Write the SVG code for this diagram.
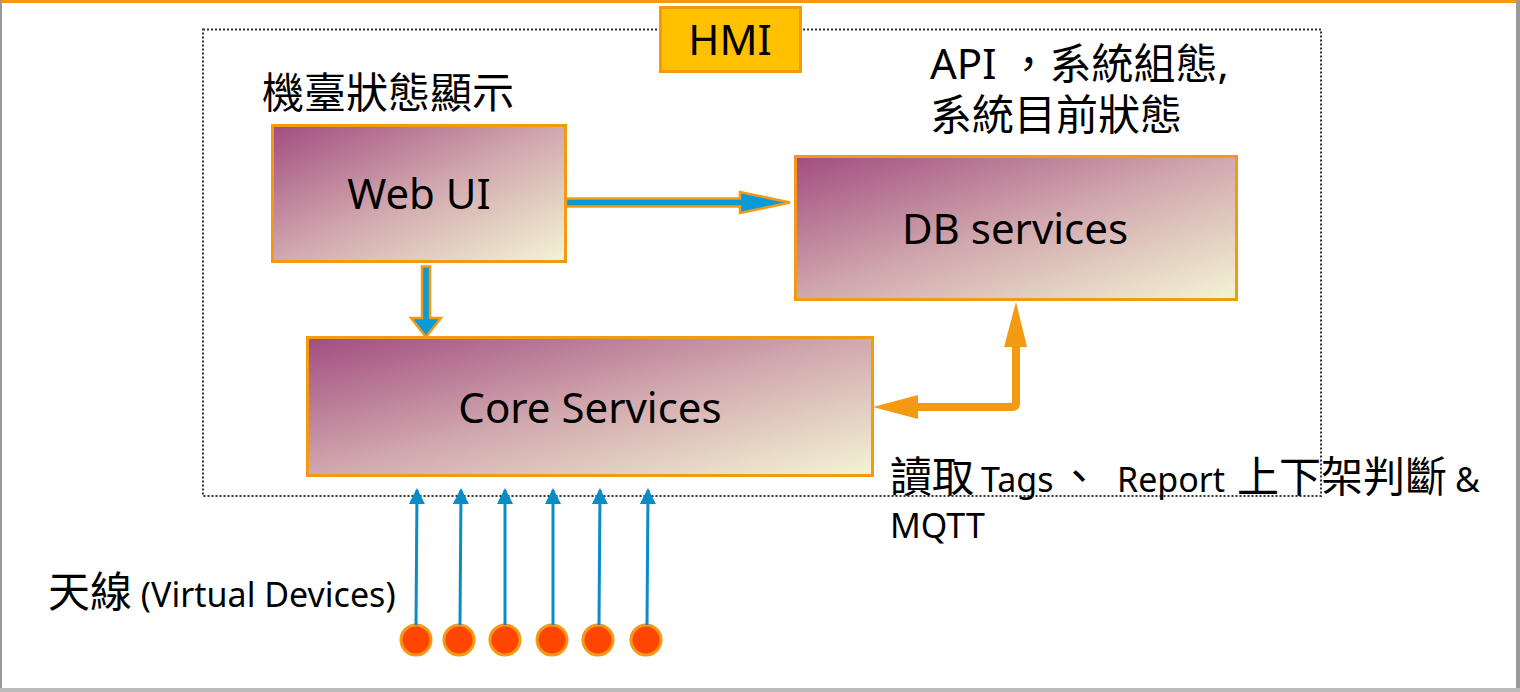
<svg xmlns="http://www.w3.org/2000/svg" width="1520" height="692" viewBox="0 0 1520 692">
<defs>
<linearGradient id="g" x1="0" y1="0" x2="1" y2="1">
<stop offset="0" stop-color="#A24D80"/>
<stop offset="0.5" stop-color="#D1A8AE"/>
<stop offset="1" stop-color="#F4F4D4"/>
</linearGradient>
<marker id="ah" viewBox="0 0 16 16" refX="14" refY="8" markerWidth="16" markerHeight="16" markerUnits="userSpaceOnUse" orient="auto">
<path d="M0,0 L16,8 L0,16 Z" fill="#0A8CC6"/>
</marker>
<style>
.box{stroke:#F39A12;stroke-width:3;fill:url(#g)}
.t{font-family:"Noto Sans","Noto Sans CJK TC",sans-serif;fill:#000}
.lbl{font-size:42px;text-anchor:middle}
.cjk{font-size:42px}
.lat{font-size:34px}
.ant{stroke:#0A8CC6;stroke-width:3;fill:none}
.dot{fill:#FF4600;stroke:#F39A12;stroke-width:3}
</style>
</defs>
<rect x="0" y="0" width="1520" height="692" fill="#fff"/>
<rect x="0" y="0" width="1520" height="3" fill="#F39A12"/>
<rect x="0" y="0" width="2" height="692" fill="#999"/>
<rect x="1516" y="0" width="4" height="692" fill="#999"/>
<rect x="0" y="688" width="1520" height="4" fill="#bbb"/>

<g id="hmi-region">
<rect x="203" y="29.5" width="1118" height="466.5" fill="none" stroke="#333" stroke-width="2" stroke-dasharray="2 2"/>
</g>
<g id="hmi-label">
<rect x="660.5" y="7.5" width="140" height="64" fill="#FFC000" stroke="#F39A12" stroke-width="3"/>
<text class="t lbl" x="730" y="55">HMI</text>
</g>

<g id="web-ui">
<rect class="box" x="272.5" y="125.5" width="293" height="136"/>
<text class="t lbl" x="419" y="209">Web UI</text>
<text class="t cjk" x="262" y="108">機臺狀態顯示</text>
</g>

<g id="db-services">
<rect class="box" x="795.5" y="156.5" width="441" height="143"/>
<text class="t lbl" x="1015" y="244">DB services</text>
<text class="t cjk" x="930" y="79">API ，系統組態,</text>
<text class="t cjk" x="930" y="130">系統目前狀態</text>
</g>

<g id="core-services">
<rect class="box" x="307.5" y="337.5" width="565" height="138"/>
<text class="t lbl" x="590" y="423">Core Services</text>
<text class="t" y="492"><tspan class="cjk" x="890">讀取</tspan><tspan class="lat" x="981">Tags</tspan><tspan class="cjk" x="1058">、</tspan><tspan class="lat" x="1117">Report</tspan><tspan class="cjk" x="1237">上下架判斷</tspan><tspan class="lat" x="1455">&amp;</tspan></text>
<text class="t lat" x="890" y="538">MQTT</text>
</g>

<g id="antennas">
<text class="t" x="48" y="607"><tspan class="cjk">天線</tspan><tspan class="lat"> (Virtual Devices)</tspan></text>
<circle class="dot" cx="416" cy="640" r="15"/>
<circle class="dot" cx="459" cy="640" r="15"/>
<circle class="dot" cx="505" cy="640" r="15"/>
<circle class="dot" cx="552" cy="640" r="15"/>
<circle class="dot" cx="598" cy="640" r="15"/>
<circle class="dot" cx="646" cy="640" r="15"/>
</g>

<g id="connectors">
<path d="M566,198.5 L740,198.5 L740,192 L790,202.5 L740,213 L740,206.5 L566,206.5 Z" fill="#0A9AD6" stroke="#F39A12" stroke-width="2.5" stroke-linejoin="miter"/>
<path d="M422,266.5 L430,266.5 L430,318 L441,318 L426,337 L411,318 L422,318 Z" fill="#0A9AD6" stroke="#F39A12" stroke-width="2.5"/>
<path d="M1016,346 L1016,403 Q1016,407 1012,407 L917,407" fill="none" stroke="#F39A12" stroke-width="8"/>
<path d="M1016,302 L1027,347 L1004,347 Z" fill="#F39A12"/>
<path d="M873,407 L918,395 L918,419 Z" fill="#F39A12"/>
<line class="ant" x1="416" y1="625" x2="417" y2="490" marker-end="url(#ah)"/>
<line class="ant" x1="460" y1="625" x2="461" y2="490" marker-end="url(#ah)"/>
<line class="ant" x1="505" y1="625" x2="505" y2="490" marker-end="url(#ah)"/>
<line class="ant" x1="553" y1="625" x2="553" y2="490" marker-end="url(#ah)"/>
<line class="ant" x1="599" y1="625" x2="600" y2="490" marker-end="url(#ah)"/>
<line class="ant" x1="647" y1="625" x2="648" y2="490" marker-end="url(#ah)"/>
</g>
</svg>
